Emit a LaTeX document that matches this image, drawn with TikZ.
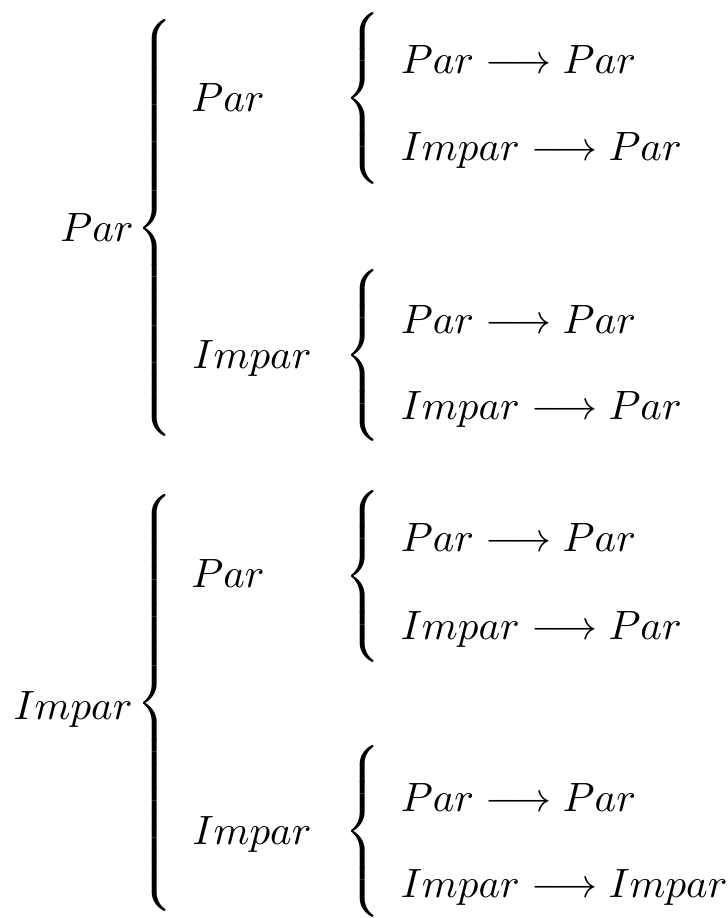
\documentclass[tikz,border=0pt]{standalone}
\newcommand\mybrace[1]{$\delimitershortfall=0pt\left\{\vcenter{\hbox{\rule{0pt}{#1}}}\right.$}
\begin{document}
\begin{tikzpicture}[x=0.2443pt,y=-0.2443pt,
  lbl/.style={inner sep=0pt, anchor=base},
  item/.style={inner sep=0pt, anchor=base west},
  bracenode/.style={inner sep=0pt}]
\useasboundingbox (0,0) rectangle (727,918);
% top group
\node[lbl] (p) at (97,242) {$Par$};
\node[bracenode] (bp) at (157,228) {\mybrace{102pt}};
\node[lbl] (pp) at (228,112) {$Par$};
\node[bracenode] (bpp) at (365,98) {\mybrace{41pt}};
\node[item] (pp1) at (400,74) {$Par \longrightarrow Par$};
\node[item] (pp2) at (400,161) {$Impar \longrightarrow Par$};
\node[lbl] (pi) at (252,369) {$Impar$};
\node[bracenode] (bpi) at (365,355) {\mybrace{40.5pt}};
\node[item] (pi1) at (400,334) {$Par \longrightarrow Par$};
\node[item] (pi2) at (400,419) {$Impar \longrightarrow Par$};
% bottom group
\node[lbl] (i) at (73,719) {$Impar$};
\node[bracenode] (bi) at (157,703) {\mybrace{101.5pt}};
\node[lbl] (ip) at (228,587) {$Par$};
\node[bracenode] (bip) at (365,576) {\mybrace{41pt}};
\node[item] (ip1) at (400,551) {$Par \longrightarrow Par$};
\node[item] (ip2) at (400,639) {$Impar \longrightarrow Par$};
\node[lbl] (ii) at (252,844) {$Impar$};
\node[bracenode] (bii) at (365,831) {\mybrace{40.3pt}};
\node[item] (ii1) at (400,811) {$Par \longrightarrow Par$};
\node[item] (ii2) at (400,897) {$Impar \longrightarrow Impar$};
\end{tikzpicture}
\end{document}
